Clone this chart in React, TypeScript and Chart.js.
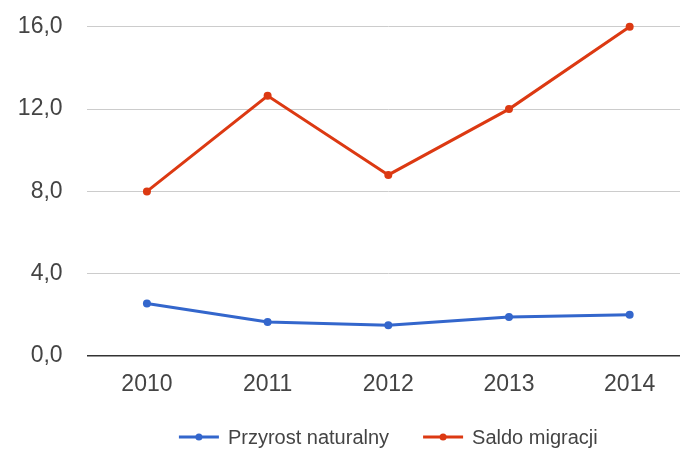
import React, { useEffect, useRef } from "react";
import { Chart, registerables } from "chart.js";

Chart.register(...registerables);

const years = ["2010", "2011", "2012", "2013", "2014"];
const przyrostNaturalny = [2.55, 1.65, 1.5, 1.9, 2.0];
const saldoMigracji = [8.0, 12.65, 8.8, 12.0, 16.0];
const seriesNames = ["Przyrost naturalny", "Saldo migracji"];
const seriesColors = ["#3366CC", "#DC3912"];
const yTicks = [0, 4, 8, 12, 16];

const FONT = "'Liberation Sans', Arial, sans-serif";
const SHIFT = 11;

const legendPlugin = {
  id: "customLegend",
  afterDraw(chart: any) {
    const ctx = chart.ctx;
    const area = chart.chartArea;
    ctx.save();
    ctx.font = `20px ${FONT}`;
    const lineW = 40;
    const gapText = 9;
    const gapItems = 34;
    const items = chart.data.datasets.map((ds: any) => ({
      label: ds.label,
      color: ds.borderColor,
      w: lineW + gapText + ctx.measureText(ds.label).width,
    }));
    const total = items.reduce((s: number, it: any) => s + it.w, 0) + gapItems * (items.length - 1);
    let x = (area.left + area.right) / 2 - total / 2;
    const y = area.bottom + 81;
    for (const it of items) {
      ctx.strokeStyle = it.color;
      ctx.lineWidth = 3;
      ctx.beginPath();
      ctx.moveTo(x, y);
      ctx.lineTo(x + lineW, y);
      ctx.stroke();
      ctx.fillStyle = it.color;
      ctx.beginPath();
      ctx.arc(x + lineW / 2, y, 3.5, 0, Math.PI * 2);
      ctx.fill();
      ctx.fillStyle = "#444444";
      ctx.textBaseline = "middle";
      ctx.textAlign = "left";
      ctx.fillText(it.label, x + lineW + gapText, y + 1);
      x += it.w + gapItems;
    }
    ctx.restore();
  },
};

export default function App() {
  const ref = useRef<HTMLCanvasElement | null>(null);
  useEffect(() => {
    if (!ref.current) return;
    const chart = new Chart(ref.current, {
      type: "line",
      data: {
        labels: years,
        datasets: [
          {
            label: seriesNames[0],
            data: przyrostNaturalny,
            borderColor: seriesColors[0],
            backgroundColor: seriesColors[0],
            borderWidth: 3,
            pointRadius: 4,
            pointBorderWidth: 0,
            tension: 0,
            clip: false,
          },
          {
            label: seriesNames[1],
            data: saldoMigracji,
            borderColor: seriesColors[1],
            backgroundColor: seriesColors[1],
            borderWidth: 3,
            pointRadius: 4,
            pointBorderWidth: 0,
            tension: 0,
            clip: false,
          },
        ],
      },
      options: {
        animation: false,
        responsive: false,
        maintainAspectRatio: false,
        layout: { padding: { top: 0, right: 10, left: 0, bottom: 0 } },
        plugins: { legend: { display: false }, tooltip: { enabled: false } },
        scales: {
          x: {
            offset: true,
            grid: { display: false, drawTicks: false },
            border: { display: false },
            ticks: {
              color: "#444444",
              font: { family: FONT, size: 23 },
              padding: 15,
              maxRotation: 0,
            },
            afterFit(scale: any) {
              scale.height = 94;
            },
          },
          y: {
            min: 0,
            max: 16,
            afterBuildTicks(scale: any) {
              scale.ticks = yTicks.map((v) => ({ value: v }));
            },
            grid: {
              drawTicks: false,
              color: (c: any) => (c.tick && c.tick.value === 0 ? "#333333" : "#cccccc"),
              lineWidth: (c: any) => (c.tick && c.tick.value === 0 ? 1.5 : 1),
            },
            border: { display: false },
            ticks: {
              color: "#444444",
              font: { family: FONT, size: 23 },
              padding: 24,
              callback: (v: any) => Number(v).toFixed(1).replace(".", ","),
            },
            afterFit(scale: any) {
              scale.width = 86.6;
            },
          },
        },
      },
      plugins: [legendPlugin],
    });
    return () => chart.destroy();
  }, []);
  return (
    <div style={{ position: "absolute", left: 0, top: 0, width: 680, height: 450, overflow: "hidden", background: "#fff" }}>
      <canvas
        ref={ref}
        width={700}
        height={450 + SHIFT}
        style={{ display: "block", position: "absolute", left: 0, top: -SHIFT, width: 700, height: 450 + SHIFT }}
      />
    </div>
  );
}
